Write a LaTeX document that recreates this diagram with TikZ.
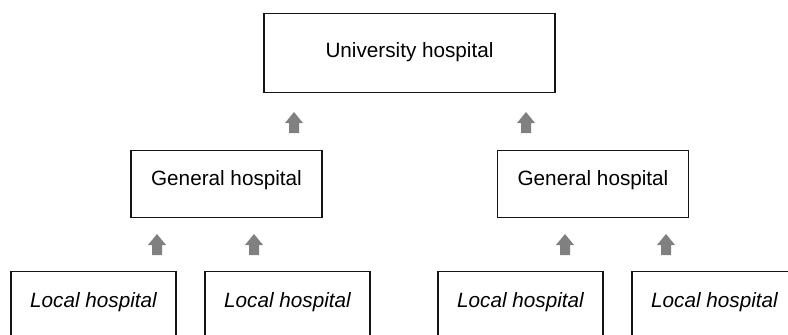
\documentclass[tikz,border=0pt]{standalone}
\usepackage{fontspec}
\setmainfont{Liberation Sans}
\definecolor{arrowgray}{RGB}{128,128,128}
\definecolor{boxline}{RGB}{20,20,20}
\tikzset{
  hbox/.style={draw=boxline, line width=1.1pt, inner sep=0pt, anchor=north,
    font=\fontsize{20.7}{24}\selectfont},
  unibox/.style={hbox, minimum width=291pt, text height=44pt, text depth=35pt},
  genbox/.style={hbox, minimum width=191pt, text height=35pt, text depth=32pt},
  localbox/.style={hbox, minimum width=165pt, text height=36pt, text depth=42pt,
    font=\fontsize{20.7}{24}\selectfont\itshape},
  uparr/.pic={\fill[arrowgray] (0,0) -- (9,11) -- (5,11) -- (5,21) -- (-5,21) -- (-5,11) -- (-9,11) -- cycle;}
}
\begin{document}
\begin{tikzpicture}[x=1pt,y=-1pt]
\useasboundingbox (0,0) rectangle (788,335);
\clip (0,0) rectangle (788,335);
\node[unibox] (uni) at (409.5,13) {University hospital};
\node[genbox] (gen1) at (226.5,150) {General hospital};
\node[genbox] (gen2) at (593,150) {General hospital};
\node[localbox] (loc1) at (93.5,271) {Local hospital};
\node[localbox] (loc2) at (287.5,271) {Local hospital};
\node[localbox] (loc3) at (520.5,271) {Local hospital};
\node[localbox] (loc4) at (714.5,271) {Local hospital};
\pic at (294,112) {uparr};
\pic at (526,112) {uparr};
\pic at (157,234) {uparr};
\pic at (254,234) {uparr};
\pic at (565,234) {uparr};
\pic at (666,234) {uparr};
\end{tikzpicture}
\end{document}
